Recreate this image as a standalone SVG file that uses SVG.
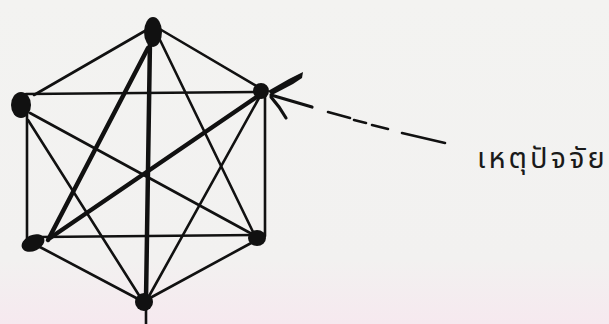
<svg xmlns="http://www.w3.org/2000/svg" width="609" height="324" viewBox="0 0 609 324">
<defs>
<linearGradient id="bg" x1="0" y1="0" x2="0" y2="1">
<stop offset="0" stop-color="#f3f3f1"/>
<stop offset="0.8" stop-color="#f2f1f0"/>
<stop offset="1" stop-color="#f6e9ef"/>
</linearGradient>
<style>
.e{stroke:#111;stroke-width:2.6;stroke-linecap:round;fill:none}
.t{stroke-width:4.5}
.v{fill:#111}
.d{stroke:#111;stroke-width:2.6;stroke-linecap:round;fill:none}
.b{stroke:#111;stroke-width:3.2;stroke-linecap:round;fill:none}
.lbl{font-family:"Noto Sans Thai","Noto Serif Thai","Loma","Garuda",sans-serif;font-size:29px;fill:#1a1a1a;letter-spacing:3px}
</style>
</defs>
<rect width="609" height="324" fill="url(#bg)"/>
<g id="connectors">
<line class="e" x1="150" y1="28" x2="34" y2="95"/>
<line class="e" x1="158" y1="28" x2="260" y2="88"/>
<line class="e" x1="26" y1="94" x2="260" y2="92"/>
<line class="e" x1="27" y1="108" x2="27" y2="238"/>
<line class="e" x1="265" y1="94" x2="265" y2="236"/>
<line class="e" x1="40" y1="237" x2="255" y2="235"/>
<line class="e" x1="30" y1="113" x2="252" y2="234"/>
<line class="e" x1="28" y1="120" x2="142" y2="300"/>
<line class="e" x1="160" y1="40" x2="254" y2="234"/>
<line class="e" x1="259" y1="98" x2="148" y2="298"/>
<line class="e" x1="38" y1="246" x2="140" y2="300"/>
<line class="e" x1="253" y1="242" x2="150" y2="298"/>
<line class="e t" x1="150" y1="40" x2="146" y2="300"/>
<line class="e" x1="146" y1="300" x2="146" y2="324"/>
<line class="e t" x1="148" y1="48" x2="48" y2="240"/>
<line class="e t" x1="258" y1="96" x2="50" y2="238"/>
<g id="arrow">
<path class="d" d="M328,112 L350,118 M354,120 L366,123 M372,125 L388,129 M402,133 L445,143"/>
<path d="M268,91 L289,79 L303,72 L302,78 L293,84 L272,95 Z" fill="#111"/>
<path class="b" d="M271,95 L312,107"/>
<path class="b" d="M271,97 L279,107 L286,118"/>
</g>
</g>
<g id="node-top"><ellipse class="v" cx="153" cy="32" rx="9" ry="15"/></g>
<g id="node-upper-left"><ellipse class="v" cx="21" cy="105" rx="10" ry="13"/></g>
<g id="node-upper-right"><ellipse class="v" cx="261" cy="91" rx="8" ry="8"/></g>
<g id="node-lower-left"><ellipse class="v" cx="33" cy="243" rx="12" ry="8" transform="rotate(-25 33 243)"/></g>
<g id="node-lower-right"><ellipse class="v" cx="257" cy="238" rx="9" ry="8"/></g>
<g id="node-bottom"><ellipse class="v" cx="144" cy="302" rx="9" ry="9"/></g>
<g id="label"><text class="lbl" x="477" y="168">เหตุปัจจัย</text></g>
</svg>
